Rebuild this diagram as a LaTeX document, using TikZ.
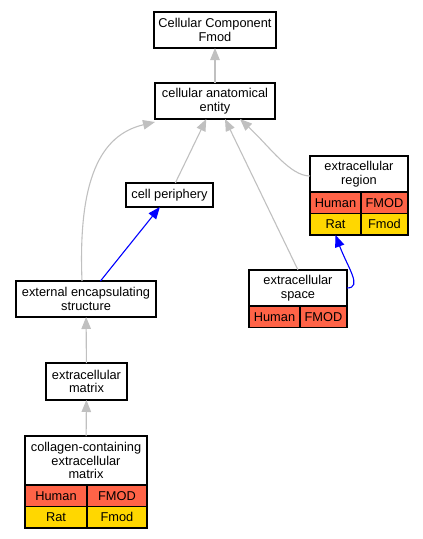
\documentclass[tikz,border=0pt]{standalone}
\usepackage{fontspec}
\setmainfont{Liberation Sans}
\usetikzlibrary{positioning,arrows.meta}
\definecolor{human}{HTML}{FF6347}
\definecolor{rat}{HTML}{FFD700}
\definecolor{isagray}{HTML}{C0C0C0}

\begin{document}
\begin{tikzpicture}[x=1pt, y=-1pt,
	every node/.style = {font=\fontsize{12.8}{13.6}\selectfont},
	term/.style = {shape=rectangle, draw, line width=1.3pt,
		align=center, inner sep=0pt, outer sep=0pt, fill=white},
	cell/.style = {term, minimum height=21.5pt},
	isa/.style = {draw=isagray, line width=1.1pt,
		-{Triangle[length=12pt,width=9.5pt]}},
	partof/.style = {draw=blue, line width=1.1pt,
		-{Triangle[length=12pt,width=9.5pt]}}]
	\useasboundingbox (0,0) rectangle (423,539);

	\node[term, minimum width=122pt, minimum height=36pt] (cc) at (215,30) {Cellular Component\\Fmod};
	\node[term, minimum width=120pt, minimum height=36pt] (cae) at (215,101) {cellular anatomical\\entity};
	\node[term, minimum width=87pt, minimum height=24pt] (cp) at (169.5,195) {cell periphery};
	\node[term, minimum width=140pt, minimum height=36pt] (ees) at (86,299) {external encapsulating\\structure};
	\node[term, minimum width=81pt, minimum height=37pt] (ecm) at (86.5,381.5) {extracellular\\matrix};

	\node[term, minimum width=98pt, minimum height=36pt] (er) at (359,174) {extracellular\\region};
	\node[cell, fill=human, minimum width=51pt, below right=0pt and 0pt of er.south west] (er1a) {Human};
	\node[cell, fill=human, minimum width=47pt, right=0pt of er1a] (er1b) {FMOD};
	\node[cell, fill=rat, minimum width=51pt, below=0pt of er1a] (er2a) {Rat};
	\node[cell, fill=rat, minimum width=47pt, below=0pt of er1b] (er2b) {Fmod};

	\node[term, minimum width=98pt, minimum height=36pt] (es) at (298,288) {extracellular\\space};
	\node[cell, fill=human, minimum width=51pt, below right=0pt and 0pt of es.south west] (es1a) {Human};
	\node[cell, fill=human, minimum width=47pt, right=0pt of es1a] (es1b) {FMOD};

	\node[term, minimum width=122pt, minimum height=49pt] (ccm) at (86,460.5) {collagen-containing\\extracellular\\matrix};
	\node[cell, fill=human, minimum width=62pt, below right=0pt and 0pt of ccm.south west] (ccm1a) {Human};
	\node[cell, fill=human, minimum width=60pt, right=0pt of ccm1a] (ccm1b) {FMOD};
	\node[cell, fill=rat, minimum width=62pt, below=0pt of ccm1a] (ccm2a) {Rat};
	\node[cell, fill=rat, minimum width=60pt, below=0pt of ccm1b] (ccm2b) {Fmod};

	\draw[isa] (cae) -- (cc);
	\draw[isa] (cp) -- (cae);
	\draw[isa] ([xshift=-4pt]ees.north) .. controls (78,180) and (100,135) .. ([yshift=-3pt]cae.south west);
	\draw[isa] (es.north) -- ([xshift=10pt]cae.south);
	\draw[isa] ([yshift=-2pt]er.west) .. controls +(-20,0) and +(30,28) .. ([xshift=25pt]cae.south);
	\draw[isa] (ecm) -- (ees);
	\draw[isa] (ccm) -- (ecm);
	\draw[partof] (ees) -- (cp);
	\draw[partof] (es.east) .. controls +(16,0) and +(12,32) .. (er2a.south);
\end{tikzpicture}
\end{document}
